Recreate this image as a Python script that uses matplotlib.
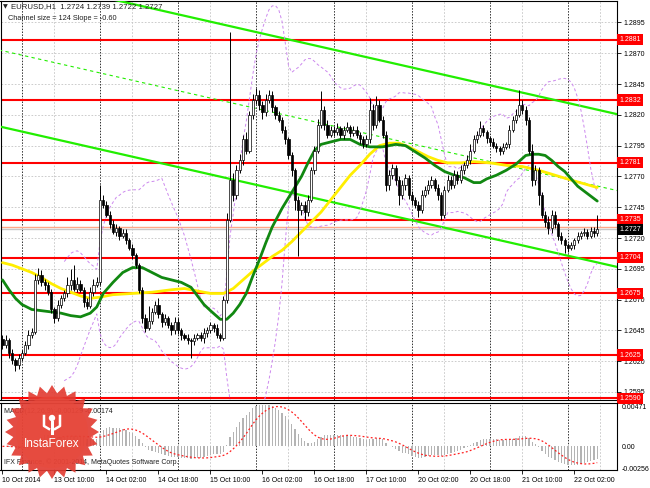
import numpy as np
import pandas as pd
import matplotlib
matplotlib.use('Agg')
import matplotlib.pyplot as plt
import matplotlib.transforms as mtransforms
from matplotlib.patches import Polygon, Circle

plt.rcParams['font.family'] = ['Liberation Sans', 'DejaVu Sans']

# EURUSD H1, 10 Oct 18:00 .. 22 Oct 09:00
closes = [
    1.2633, 1.2637, 1.2627, 1.2621, 1.2617, 1.2623,
    1.2627, 1.2633, 1.2641, 1.2644, 1.2686, 1.2690, 1.2684, 1.2682, 1.2676, 1.2662, 1.2655, 1.2666,
    1.2671, 1.2675, 1.2682, 1.2686, 1.2679, 1.2683, 1.2678, 1.2668, 1.2665, 1.2676, 1.2682, 1.2684,
    1.2751, 1.2747, 1.2739, 1.2731, 1.2725, 1.2728, 1.2722, 1.2724, 1.2718, 1.2712, 1.2706, 1.2698,
    1.2678, 1.2655, 1.2647, 1.2653, 1.2660, 1.2666, 1.2658, 1.2652, 1.2655, 1.2649, 1.2645, 1.2652,
    1.2645, 1.2641, 1.2639, 1.2637, 1.2636, 1.2639, 1.2641, 1.2639, 1.2643, 1.2645, 1.2649, 1.2647,
    1.2641, 1.2639, 1.2670, 1.2735, 1.2767, 1.2755, 1.2775, 1.2783, 1.2800, 1.2791, 1.2820, 1.2832,
    1.2836, 1.2828, 1.2822, 1.2832, 1.2836, 1.2826, 1.2820, 1.2816, 1.2808, 1.2800, 1.2787, 1.2775,
    1.2751, 1.2743, 1.2747, 1.2741, 1.2751, 1.2775, 1.2791, 1.2812, 1.2824, 1.2812, 1.2804, 1.2808,
    1.2806, 1.2809, 1.2804, 1.2808, 1.2810, 1.2805, 1.2808, 1.2804, 1.2800, 1.2796, 1.2800, 1.2824,
    1.2812, 1.2828, 1.2816, 1.2804, 1.2763, 1.2771, 1.2777, 1.2767, 1.2755, 1.2763, 1.2769, 1.2755,
    1.2751, 1.2747, 1.2743, 1.2755, 1.2759, 1.2763, 1.2767, 1.2761, 1.2755, 1.2739, 1.2759, 1.2767,
    1.2763, 1.2771, 1.2767, 1.2775, 1.2779, 1.2783, 1.2791, 1.2800, 1.2804, 1.2809, 1.2806, 1.2801,
    1.2798, 1.2795, 1.2793, 1.2791, 1.2794, 1.2796, 1.2808, 1.2816, 1.2820, 1.2828, 1.2824, 1.2816,
    1.2791, 1.2767, 1.2775, 1.2755, 1.2739, 1.2733, 1.2728, 1.2739, 1.2731, 1.2722, 1.2718, 1.2714,
    1.2712, 1.2714, 1.2718, 1.2722, 1.2724, 1.2725, 1.2722, 1.2726, 1.2724, 1.2727,
]
first_open = 1.2638

# wick lengths above / below the body, in pips
upper_wick = [
    3, 4, 2, 3, 2, 3,
    2, 3, 4, 3, 5, 6, 4, 3, 2, 3, 2, 4, 3, 3, 6, 9, 12, 5, 3, 2, 3, 4, 5, 4,
    12, 4, 3, 3, 4, 3, 2, 3, 3, 2, 3, 2, 2, 2, 3, 12, 3, 3, 5, 2, 3, 2, 3, 4,
    3, 2, 2, 3, 2, 3, 2, 3, 4, 3, 3, 2, 3, 2, 3, 5, 120, 6, 4, 5, 4, 6, 3, 5,
    6, 4, 3, 5, 4, 3, 2, 3, 2, 3, 2, 3, 2, 3, 2, 3, 4, 3, 4, 5, 15, 3, 4, 3,
    3, 4, 2, 3, 4, 2, 3, 3, 2, 3, 4, 10, 5, 7, 4, 3, 3, 4, 3, 2, 3, 4, 3, 2,
    3, 2, 3, 4, 3, 4, 3, 2, 3, 2, 3, 4, 3, 4, 3, 4, 3, 4, 5, 4, 3, 6, 3, 2,
    2, 3, 2, 2, 3, 2, 4, 3, 5, 12, 4, 3, 2, 5, 4, 3, 2, 3, 5, 4, 3, 2, 3, 2,
    2, 3, 2, 3, 2, 3, 2, 3, 3, 12,
]
lower_wick = [
    3, 2, 4, 3, 5, 3,
    3, 2, 3, 2, 2, 3, 3, 4, 2, 3, 4, 2, 3, 2, 3, 4, 2, 3, 2, 4, 3, 2, 3, 2,
    2, 3, 2, 3, 2, 3, 4, 2, 3, 2, 3, 2, 3, 4, 3, 2, 3, 2, 3, 4, 3, 2, 4, 3,
    3, 4, 2, 3, 13, 3, 2, 3, 4, 3, 2, 3, 2, 3, 2, 3, 2, 5, 3, 2, 4, 3, 2, 3,
    3, 4, 5, 3, 2, 4, 3, 2, 3, 4, 3, 5, 8, 38, 4, 6, 3, 2, 3, 2, 3, 4, 3, 2,
    3, 2, 3, 4, 2, 3, 2, 3, 4, 3, 2, 3, 4, 3, 2, 3, 5, 4, 3, 4, 8, 3, 4, 3,
    4, 3, 6, 3, 2, 3, 2, 3, 4, 4, 3, 2, 3, 2, 3, 2, 3, 2, 3, 2, 3, 2, 3, 4,
    3, 2, 3, 4, 3, 2, 3, 2, 3, 2, 3, 4, 3, 5, 4, 8, 3, 4, 5, 4, 3, 4, 3, 6,
    3, 2, 3, 2, 3, 2, 3, 2, 3, 2,
]

# horizontal support / resistance levels
levels = [1.2881, 1.2832, 1.2781, 1.2735, 1.2704, 1.2675, 1.2625, 1.2590]
bid_price = 1.2727
ask_price = 1.2729

# slow moving average (yellow), read at bar positions
slow_ma_bar = [0, 3, 6, 9, 12, 15, 18, 21, 24, 27, 30, 34, 40, 46, 52, 56, 60, 64, 68, 71,
               74, 77, 80, 83, 86, 89, 92, 95, 98, 101, 104, 107, 110, 113, 116, 119, 122,
               125, 128, 131, 134, 137, 141, 145, 150, 155, 160, 165, 170, 175, 179, 183]
slow_ma = [1.2700, 1.2698, 1.2695, 1.2692, 1.2688, 1.2683, 1.2679, 1.2676, 1.2673, 1.2671,
           1.2672, 1.2674, 1.2675, 1.2676, 1.2678, 1.2679, 1.2677, 1.2675, 1.2675, 1.2679,
           1.2686, 1.2693, 1.2699, 1.2705, 1.2710, 1.2717, 1.2725, 1.2733, 1.2741, 1.2751,
           1.2761, 1.2771, 1.2779, 1.2788, 1.2795, 1.2797, 1.2797, 1.2794, 1.2790, 1.2786,
           1.2783, 1.2781, 1.2781, 1.2782, 1.2781, 1.2779, 1.2778, 1.2775, 1.2771, 1.2767,
           1.2764, 1.2761]

# fast moving average (dark green)
fast_ma_bar = [0, 2, 4, 6, 9, 12, 15, 18, 21, 24, 27, 29, 31, 34, 37, 40, 43, 46, 49, 52,
               55, 58, 60, 62, 64, 67, 69, 71, 73, 75, 77, 79, 81, 83, 86, 89, 92, 94, 96,
               98, 101, 104, 107, 110, 113, 117, 121, 124, 127, 130, 133, 136, 139, 142, 145,
               147, 149, 152, 155, 158, 161, 163, 165, 167, 169, 171, 173, 175, 177, 179, 181,
               183]
fast_ma = [1.2686, 1.2678, 1.2671, 1.2666, 1.2662, 1.2661, 1.2660, 1.2659, 1.2657, 1.2656,
           1.2659, 1.2664, 1.2675, 1.2684, 1.2692, 1.2696, 1.2696, 1.2692, 1.2688, 1.2686,
           1.2684, 1.2680, 1.2673, 1.2666, 1.2661, 1.2654, 1.2654, 1.2659, 1.2666, 1.2675,
           1.2689, 1.2702, 1.2716, 1.2729, 1.2744, 1.2757, 1.2770, 1.2781, 1.2791, 1.2796,
           1.2798, 1.2800, 1.2800, 1.2796, 1.2794, 1.2794, 1.2796, 1.2795, 1.2790, 1.2785,
           1.2779, 1.2774, 1.2771, 1.2769, 1.2765, 1.2765, 1.2768, 1.2771, 1.2775, 1.2780,
           1.2787, 1.2788, 1.2788, 1.2787, 1.2783, 1.2778, 1.2774, 1.2768, 1.2762, 1.2758,
           1.2754, 1.2750]

# regression channel: size 124 pips, slope -0.60 pips per bar
channel_start = 1.2810
channel_slope = -0.00006
channel_size = 0.0124

time_label_bar = [0, 16, 32, 48, 64, 80, 96, 112, 128, 144, 160, 176]
time_labels = ['10 Oct 2014', '13 Oct 10:00', '14 Oct 02:00', '14 Oct 18:00', '15 Oct 10:00',
               '16 Oct 02:00', '16 Oct 18:00', '17 Oct 10:00', '20 Oct 02:00', '20 Oct 18:00',
               '21 Oct 10:00', '22 Oct 02:00']
day_start_bar = [6, 30, 54, 78, 102, 126, 150, 174]
grid_bar = [16, 40, 64, 88, 112, 136, 160, 184]

price_ticks = [1.2595, 1.2620, 1.2645, 1.2670, 1.2695, 1.2720, 1.2745, 1.2770, 1.2795,
               1.2820, 1.2845, 1.2870, 1.2895]
macd_max = 0.00471
macd_min = -0.00256

# ---------------------------------------------------------------
W, H = 650, 488
fig = plt.figure(figsize=(W / 100, H / 100), dpi=100)
fig.patch.set_facecolor('white')

ax = fig.add_axes([0.5 / W, (H - 400) / H, 616.5 / W, 399 / H])
ax2 = fig.add_axes([0.5 / W, (H - 470) / H, 616.5 / W, 67 / H])

n = len(closes)
bars = np.arange(n)
c = np.array(closes)
o = np.array([first_open] + closes[:-1])
hi = np.maximum(o, c) + np.array(upper_wick) * 0.0001
lo = np.minimum(o, c) - np.array(lower_wick) * 0.0001

x_min, x_max = -0.615, 189.08
fs = 5.0

for a in (ax, ax2):
    a.set_xlim(x_min, x_max)
    for s in a.spines.values():
        s.set_linewidth(0.8)
    for b in grid_bar:
        a.axvline(b, color='#c4c4c4', lw=0.6, ls=(0, (2, 2)), zorder=0)
    for b in day_start_bar:
        a.axvline(b, color='#303030', lw=0.7, ls=(0, (1.5, 1.5)), zorder=0)

ax.set_ylim(1.25885, 1.29124)
for p in price_ticks:
    ax.axhline(p, color='#c4c4c4', lw=0.6, ls=(0, (2, 2)), zorder=0)

# regression channel
cx = np.array([x_min - 1, x_max + 1])
ch_low = channel_start + channel_slope * cx
ax.plot(cx, ch_low, color='#22ee00', lw=1.6, zorder=3)
ax.plot(cx, ch_low + channel_size, color='#22ee00', lw=1.6, zorder=3)
ax.plot(cx, ch_low + channel_size / 2, color='#22ee00', lw=0.8, ls=(0, (3, 3)), zorder=3)

# levels
for lv in levels:
    ax.axhline(lv, color='#ff0000', lw=1.5, zorder=2)
ax.axhline(ask_price, color='#ffa888', lw=1.0, zorder=2)
ax.axhline(bid_price, color='#c8c8c8', lw=1.0, zorder=2)

# bollinger bands (20, 2)
cs = pd.Series(closes)
bb_mid = cs.rolling(20, min_periods=20).mean()
bb_sd = cs.rolling(20, min_periods=20).std(ddof=0)
for band in (bb_mid + 2 * bb_sd, bb_mid - 2 * bb_sd):
    ax.plot(bars, band, color='#cc88ee', lw=0.7, ls=(0, (3, 2.5)), zorder=3)

# moving averages
ax.plot(slow_ma_bar, slow_ma, color='#ffee00', lw=2.0, zorder=4,
        solid_capstyle='round', solid_joinstyle='round')
ax.plot(fast_ma_bar, fast_ma, color='#118811', lw=2.0, zorder=4,
        solid_capstyle='round', solid_joinstyle='round')

# candles
ax.vlines(bars, lo, hi, color='black', lw=0.7, zorder=5)
body_bot = np.minimum(o, c)
body_h = np.maximum(np.abs(c - o), 0.00004)
up = c >= o
ax.bar(bars[up], body_h[up], bottom=body_bot[up], width=0.62, color='white',
       edgecolor='black', lw=0.5, zorder=6)
ax.bar(bars[~up], body_h[~up], bottom=body_bot[~up], width=0.62, color='black',
       edgecolor='black', lw=0.5, zorder=6)

# right price scale
ax.yaxis.tick_right()
ax.set_yticks(price_ticks)
ax.set_yticklabels(['%.4f' % p for p in price_ticks])
ax.tick_params(axis='y', labelsize=fs, length=3, width=0.6, pad=1.5)
ax.set_xticks([])
blend = mtransforms.blended_transform_factory(ax.transAxes, ax.transData)
for lv in levels:
    ax.text(1.0035, lv, '%.4f' % lv, transform=blend, fontsize=fs, color='white', va='center',
            ha='left', zorder=10, bbox=dict(boxstyle='square,pad=0.3', fc='#ff0000', ec='none'))
ax.text(1.0035, bid_price, '%.4f' % bid_price, transform=blend, fontsize=fs, color='white',
        va='center', ha='left', zorder=10,
        bbox=dict(boxstyle='square,pad=0.3', fc='black', ec='none'))

# MACD (12, 26, 9)
ema12 = cs.ewm(span=12, adjust=False).mean()
ema26 = cs.ewm(span=26, adjust=False).mean()
macd = ema12 - ema26
signal = macd.rolling(9, min_periods=1).mean()
ax2.bar(bars, macd, width=0.45, color='#b4b4b4', zorder=2)
ax2.plot(bars, signal, color='#ff2020', lw=0.9, ls=(0, (1.5, 1.8)), zorder=3)
ax2.set_ylim(macd_min, macd_max)
ax2.yaxis.tick_right()
ax2.set_yticks([macd_max - 0.0004, 0, macd_min + 0.0002])
ax2.set_yticklabels(['%.5f' % macd_max, '0.00', '%.5f' % macd_min])
ax2.tick_params(axis='y', labelsize=fs, length=0, pad=3.5)
ax2.set_xticks(time_label_bar)
ax2.set_xticklabels(time_labels, ha='left')
ax2.tick_params(axis='x', labelsize=fs, length=3, width=0.6, pad=2)
ax2.text(0.006, 0.92, 'MACD(12,26,9) -0.00129 -0.00174', transform=ax2.transAxes,
         fontsize=fs, va='top', color='#202020', zorder=8)
ax2.text(0.006, 0.06, 'IFX Finance, \u00a9 2001-2014, MetaQuotes Software Corp.',
         transform=ax2.transAxes, fontsize=fs, va='bottom', color='#202020', zorder=8)

# header + logo overlay in pixel coordinates
ov = fig.add_axes([0, 0, 1, 1], zorder=20)
ov.set_xlim(0, W)
ov.set_ylim(H, 0)
ov.axis('off')
ov.patch.set_alpha(0)
ov.text(3, 7, '\u25bc', fontsize=4.5, va='center', color='#202020', family='DejaVu Sans')
ov.text(11, 7, 'EURUSD,H1  1.2724 1.2739 1.2722 1.2727', fontsize=5.6, va='center',
        color='#202020')
ov.text(8, 18.5, 'Channel size = 124 Slope = -0.60', fontsize=5.3, va='center', color='#202020')

cx0, cy0 = 52, 432
ang = np.linspace(0, 2 * np.pi, 49)[:-1]
rad = np.where(np.arange(48) % 2 == 0, 47, 39)
star = np.column_stack([cx0 + rad * np.cos(ang), cy0 + rad * np.sin(ang)])
ov.add_patch(Polygon(star, closed=True, fc='#e23a30', ec='none', alpha=0.9))
ov.add_patch(Circle((cx0, cy0), 36, fc='#e84a3c', ec='none', alpha=0.6))
ov.text(cx0, cy0 + 12, 'InstaForex', fontsize=8.5, color='white', ha='center', va='center')
ov.add_patch(Circle((cx0, cy0 - 14), 3.2, fc='white', ec='none'))
ov.plot([cx0, cx0], [cy0 - 10, cy0 + 1], color='white', lw=2.2)
ov.plot([cx0 - 8, cx0 - 8, cx0 - 3], [cy0 - 16, cy0 - 6, cy0 - 3], color='white', lw=1.8)
ov.plot([cx0 + 8, cx0 + 8, cx0 + 3], [cy0 - 16, cy0 - 6, cy0 - 3], color='white', lw=1.8)

fig.savefig('out.png', dpi=100)
